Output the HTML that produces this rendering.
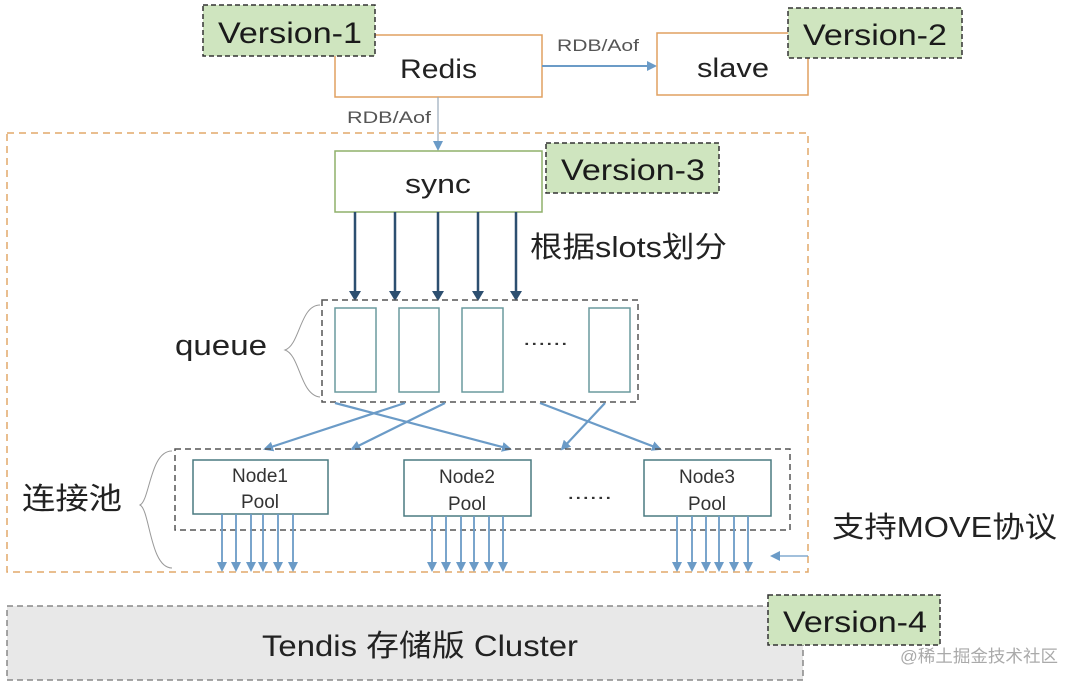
<!DOCTYPE html>
<html><head><meta charset="utf-8"><style>
html,body{margin:0;padding:0;background:#fff;}
svg{display:block;font-family:"Liberation Sans","Noto Sans CJK SC",sans-serif;}
</style></head><body>
<svg width="1080" height="686" viewBox="0 0 1080 686" xmlns="http://www.w3.org/2000/svg">
<defs>
<marker id="a" markerWidth="10" markerHeight="10" refX="8" refY="5" orient="auto" markerUnits="userSpaceOnUse"><path d="M0,0 L10,5 L0,10 z" fill="#6b9bc7"/></marker>
<marker id="d" markerWidth="10" markerHeight="12" refX="8" refY="6" orient="auto" markerUnits="userSpaceOnUse"><path d="M0,0 L10,6 L0,12 z" fill="#2d4f70"/></marker>
</defs>
<rect x="7" y="133" width="801" height="439" fill="none" stroke="#e2a96a" stroke-width="1.5" stroke-dasharray="7,5"/>
<rect x="335" y="35" width="207" height="62" fill="#fff" stroke="#e0a060" stroke-width="1.5"/>
<text x="400" y="78" font-size="27" textLength="77" lengthAdjust="spacingAndGlyphs" fill="#222">Redis</text>
<line x1="542" y1="66" x2="655" y2="66" stroke="#6b9bc7" stroke-width="2" marker-end="url(#a)"/>
<text x="557" y="51" font-size="17" textLength="82" lengthAdjust="spacingAndGlyphs" fill="#555">RDB/Aof</text>
<rect x="657" y="33" width="151" height="62" fill="#fff" stroke="#e0a060" stroke-width="1.5"/>
<text x="697" y="77" font-size="27" textLength="72" lengthAdjust="spacingAndGlyphs" fill="#222">slave</text>
<line x1="438" y1="97" x2="438" y2="149" stroke="#9ab" stroke-width="1.2" marker-end="url(#a)"/>
<text x="347" y="123" font-size="17" textLength="84" lengthAdjust="spacingAndGlyphs" fill="#555">RDB/Aof</text>
<rect x="335" y="151" width="207" height="61" fill="#fff" stroke="#8fb06a" stroke-width="1.5"/>
<text x="405" y="193" font-size="27" textLength="66" lengthAdjust="spacingAndGlyphs" fill="#222">sync</text>
<g stroke="#2d4f70" stroke-width="2.5">
<line x1="355" y1="212" x2="355" y2="299" marker-end="url(#d)"/>
<line x1="395" y1="212" x2="395" y2="299" marker-end="url(#d)"/>
<line x1="438" y1="212" x2="438" y2="299" marker-end="url(#d)"/>
<line x1="478" y1="212" x2="478" y2="299" marker-end="url(#d)"/>
<line x1="516" y1="212" x2="516" y2="299" marker-end="url(#d)"/>
</g>
<text x="530" y="257" font-size="29" textLength="197" lengthAdjust="spacingAndGlyphs" fill="#222">根据slots划分</text>
<rect x="322" y="300" width="316" height="102" fill="none" stroke="#555" stroke-width="1.5" stroke-dasharray="6,4"/>
<g fill="#fff" stroke="#6a9a9e" stroke-width="1.5">
<rect x="335" y="308" width="41" height="84"/><rect x="399" y="308" width="40" height="84"/>
<rect x="462" y="308" width="41" height="84"/><rect x="589" y="308" width="41" height="84"/>
</g>
<text x="523" y="345" font-size="20" textLength="45" lengthAdjust="spacingAndGlyphs" fill="#333">......</text>
<text x="175" y="355" font-size="29" textLength="92" lengthAdjust="spacingAndGlyphs" fill="#222">queue</text>
<path d="M320,305 C300,305 300,345 285,350 C300,355 300,395 320,397" fill="none" stroke="#999" stroke-width="1"/>
<g stroke="#6b9bc7" stroke-width="2.2">
<line x1="335" y1="403" x2="510" y2="449" marker-end="url(#a)"/>
<line x1="405" y1="403" x2="265" y2="449" marker-end="url(#a)"/>
<line x1="445" y1="403" x2="352" y2="449" marker-end="url(#a)"/>
<line x1="540" y1="403" x2="660" y2="449" marker-end="url(#a)"/>
<line x1="605" y1="403" x2="562" y2="449" marker-end="url(#a)"/>
</g>
<rect x="175" y="449" width="615" height="81" fill="none" stroke="#555" stroke-width="1.5" stroke-dasharray="6,4"/>
<g fill="#fff" stroke="#4a7a80" stroke-width="1.5">
<rect x="193" y="460" width="135" height="54"/><rect x="404" y="460" width="127" height="56"/><rect x="644" y="460" width="127" height="56"/>
</g>
<g font-size="19" text-anchor="middle" fill="#333">
<text x="260" y="482">Node1</text><text x="260" y="508">Pool</text>
<text x="467" y="483">Node2</text><text x="467" y="510">Pool</text>
<text x="707" y="483">Node3</text><text x="707" y="510">Pool</text>
</g>
<text x="567" y="499" font-size="20" textLength="45" lengthAdjust="spacingAndGlyphs" fill="#333">......</text>
<g stroke="#6b9bc7" stroke-width="1.8">
<line x1="222" y1="514" x2="222" y2="570" marker-end="url(#a)"/><line x1="236" y1="514" x2="236" y2="570" marker-end="url(#a)"/>
<line x1="251" y1="514" x2="251" y2="570" marker-end="url(#a)"/><line x1="263" y1="514" x2="263" y2="570" marker-end="url(#a)"/>
<line x1="278" y1="514" x2="278" y2="570" marker-end="url(#a)"/><line x1="293" y1="514" x2="293" y2="570" marker-end="url(#a)"/>
<line x1="432" y1="516" x2="432" y2="570" marker-end="url(#a)"/><line x1="446" y1="516" x2="446" y2="570" marker-end="url(#a)"/>
<line x1="461" y1="516" x2="461" y2="570" marker-end="url(#a)"/><line x1="474" y1="516" x2="474" y2="570" marker-end="url(#a)"/>
<line x1="489" y1="516" x2="489" y2="570" marker-end="url(#a)"/><line x1="503" y1="516" x2="503" y2="570" marker-end="url(#a)"/>
<line x1="677" y1="516" x2="677" y2="570" marker-end="url(#a)"/><line x1="692" y1="516" x2="692" y2="570" marker-end="url(#a)"/>
<line x1="706" y1="516" x2="706" y2="570" marker-end="url(#a)"/><line x1="719" y1="516" x2="719" y2="570" marker-end="url(#a)"/>
<line x1="734" y1="516" x2="734" y2="570" marker-end="url(#a)"/><line x1="748" y1="516" x2="748" y2="570" marker-end="url(#a)"/>
<line x1="808" y1="556" x2="772" y2="556" marker-end="url(#a)" stroke-width="1.2"/>
</g>
<text x="22" y="509" font-size="30" textLength="100" lengthAdjust="spacingAndGlyphs" fill="#222">连接池</text>
<path d="M172,451 C150,451 150,500 140,505 C150,510 150,568 172,568" fill="none" stroke="#999" stroke-width="1"/>
<text x="832" y="537" font-size="29" textLength="225" lengthAdjust="spacingAndGlyphs" fill="#222">支持MOVE协议</text>
<rect x="7" y="606" width="796" height="74" fill="#e8e8e8" stroke="#888" stroke-width="1.5" stroke-dasharray="6,4"/>
<text x="262" y="656" font-size="30" textLength="316" lengthAdjust="spacingAndGlyphs" fill="#222">Tendis 存储版 Cluster</text>
<g fill="#cfe5bf" stroke="#333" stroke-width="1.5" stroke-dasharray="5,3">
<rect x="203" y="5" width="172" height="51"/><rect x="788" y="8" width="174" height="50"/>
<rect x="546" y="143" width="173" height="50"/><rect x="768" y="595" width="172" height="50"/>
</g>
<g font-size="30" fill="#1a1a1a">
<text x="218" y="43" textLength="144" lengthAdjust="spacingAndGlyphs">Version-1</text>
<text x="803" y="45" textLength="144" lengthAdjust="spacingAndGlyphs">Version-2</text>
<text x="561" y="180" textLength="144" lengthAdjust="spacingAndGlyphs">Version-3</text>
<text x="783" y="632" textLength="144" lengthAdjust="spacingAndGlyphs">Version-4</text>
</g>
<text x="900" y="662" font-size="17" textLength="158" lengthAdjust="spacingAndGlyphs" fill="#aaa">@稀土掘金技术社区</text>
</svg>
</body></html>
